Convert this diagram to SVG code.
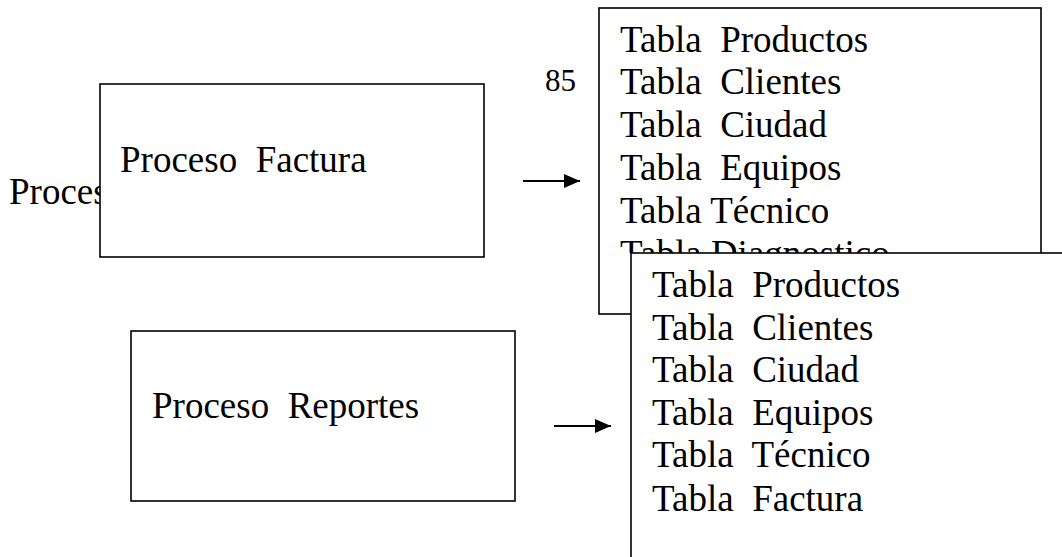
<svg xmlns="http://www.w3.org/2000/svg" width="1062" height="557" viewBox="0 0 1062 557">
<style>
.t{font-family:"Liberation Serif","Times New Roman",serif;font-size:37px;fill:#000}
.n{font-family:"Liberation Serif","Times New Roman",serif;font-size:31px;fill:#000}
.box{fill:#fff;stroke:#000;stroke-width:1.6}
.ln{stroke:#000;stroke-width:2;fill:none}
</style>
<defs>
<marker id="ah" viewBox="0 0 16 14" refX="16" refY="7" markerWidth="16" markerHeight="14" markerUnits="userSpaceOnUse" orient="auto">
<polygon points="0,0 16,7 0,14" fill="#000"/>
</marker>
<clipPath id="cp1"><rect x="0" y="150" width="100" height="80"/></clipPath>
<clipPath id="cp2"><rect x="600" y="230" width="440" height="23"/></clipPath>
</defs>
<rect width="1062" height="557" fill="#fff"/>
<text class="t" x="9" y="204" clip-path="url(#cp1)">Proceso</text>
<text class="n" x="545" y="91">85</text>
<g id="proceso-factura">
<rect class="box" x="100" y="84" width="384" height="173"/>
<text class="t" x="120" y="172" xml:space="preserve">Proceso  Factura</text>
</g>
<g id="tablas-1">
<rect class="box" x="599" y="8" width="442" height="306"/>
<text class="t" x="620" y="52" xml:space="preserve">Tabla  Productos</text>
<text class="t" x="620" y="94" xml:space="preserve">Tabla  Clientes</text>
<text class="t" x="620" y="137" xml:space="preserve">Tabla  Ciudad</text>
<text class="t" x="620" y="180" xml:space="preserve">Tabla  Equipos</text>
<text class="t" x="620" y="223">Tabla Técnico</text>
<text class="t" x="620" y="266" clip-path="url(#cp2)">Tabla Diagnostico</text>
</g>
<g id="tablas-2">
<rect class="box" x="631" y="253" width="500" height="400"/>
<text class="t" x="652" y="297" xml:space="preserve">Tabla  Productos</text>
<text class="t" x="652" y="340" xml:space="preserve">Tabla  Clientes</text>
<text class="t" x="652" y="382" xml:space="preserve">Tabla  Ciudad</text>
<text class="t" x="652" y="425" xml:space="preserve">Tabla  Equipos</text>
<text class="t" x="652" y="467" xml:space="preserve">Tabla  Técnico</text>
<text class="t" x="652" y="511" xml:space="preserve">Tabla  Factura</text>
</g>
<g id="proceso-reportes">
<rect class="box" x="131" y="331" width="384" height="170"/>
<text class="t" x="152" y="418" xml:space="preserve">Proceso  Reportes</text>
</g>
<g id="connectors">
<line class="ln" x1="523" y1="181" x2="580" y2="181" marker-end="url(#ah)"/>
<line class="ln" x1="554" y1="426" x2="611" y2="426" marker-end="url(#ah)"/>
</g>
</svg>
